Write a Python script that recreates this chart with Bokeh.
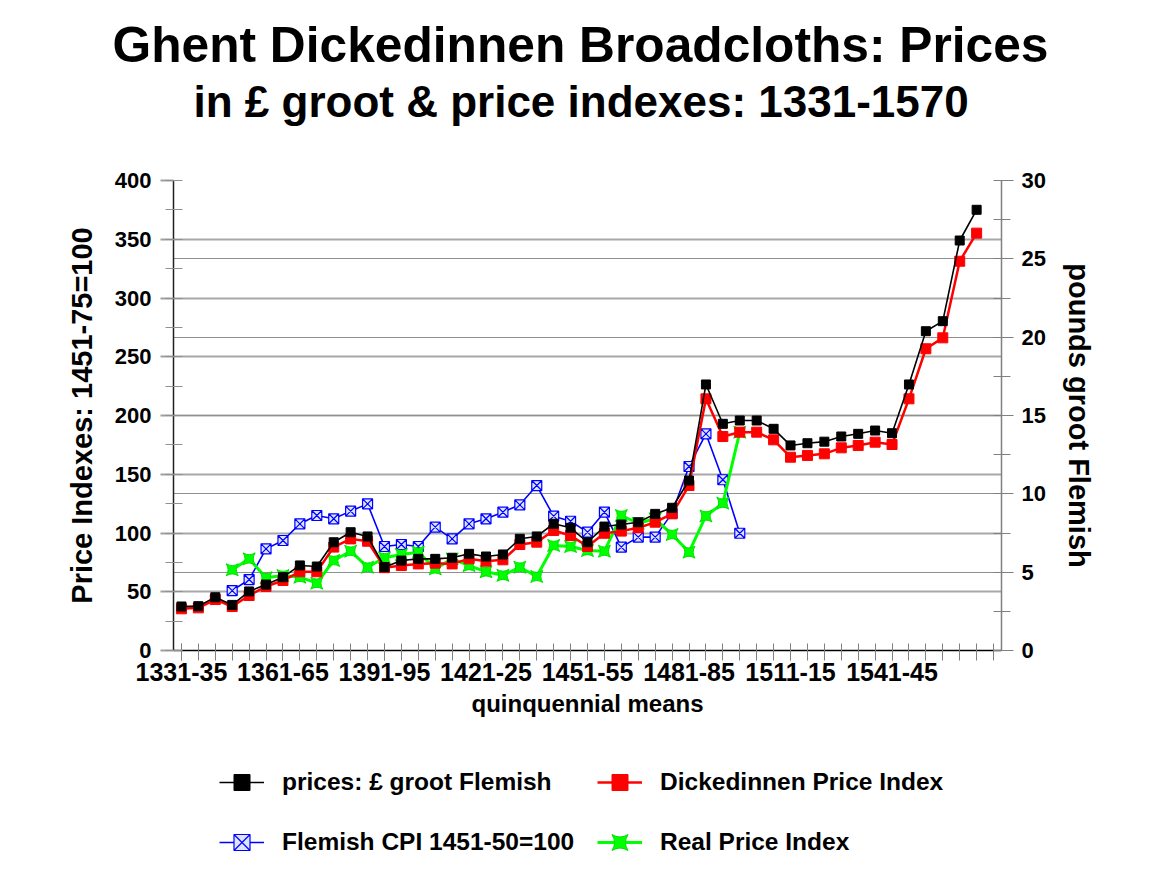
import numpy as np
from bokeh.plotting import figure
from bokeh.layouts import column
from bokeh.models import (Range1d, LinearAxis, SingleIntervalTicker, FixedTicker,
                          Grid, Legend, LegendItem, Title)
from bokeh.embed import file_html
from bokeh.resources import INLINE

# ---------------- data ----------------
periods = ["1331-35", "1336-40", "1341-45", "1346-50", "1351-55", "1356-60",
           "1361-65", "1366-70", "1371-75", "1376-80", "1381-85", "1386-90",
           "1391-95", "1396-00", "1401-05", "1406-10", "1411-15", "1416-20",
           "1421-25", "1426-30", "1431-35", "1436-40", "1441-45", "1446-50",
           "1451-55", "1456-60", "1461-65", "1466-70", "1471-75", "1476-80",
           "1481-85", "1486-90", "1491-95", "1496-00", "1501-05", "1506-10",
           "1511-15", "1516-20", "1521-25", "1526-30", "1531-35", "1536-40",
           "1541-45", "1546-50", "1551-55", "1556-60", "1561-65", "1566-70",
           "1571-75"]
tick_labels = ["1331-35", "1361-65", "1391-95", "1421-25", "1451-55",
               "1481-85", "1511-15", "1541-45"]

# prices in pounds groot Flemish (right axis)
prices_lb = [2.81, 2.83, 3.40, 2.91, 3.77, 4.21, 4.68, 5.43, 5.36, 6.91,
             7.55, 7.28, 5.32, 5.74, 5.85, 5.85, 5.92, 6.17, 6.00, 6.13,
             7.13, 7.28, 8.09, 7.83, 6.91, 7.91, 8.04, 8.19, 8.72, 9.11,
             10.85, 16.98, 14.47, 14.68, 14.68, 14.15, 13.09, 13.23, 13.33, 13.66,
             13.83, 14.04, 13.87, 16.98, 20.38, 21.02, 26.17, 28.13, None]
# Dickedinnen price index (left axis)
dick_index = [35.5, 36.3, 43.4, 37.4, 46.8, 54.5, 59.6, 67.0, 67.0, 88.0,
              95.0, 93.0, 70.5, 72.3, 73.7, 74.3, 73.7, 78.0, 76.0, 77.2,
              90.2, 92.2, 102.1, 97.9, 88.5, 99.8, 101.6, 104.4, 109.2, 116.3,
              140.4, 214.2, 182.1, 185.8, 185.8, 179.3, 164.5, 166.0, 167.4, 172.5,
              174.5, 177.3, 175.3, 214.2, 256.8, 266.1, 331.3, 355.2, None]
# Flemish CPI (left axis)
cpi = [None, None, None, 51.0, 60.4, 86.5, 93.6, 107.8, 114.9, 112.1,
       118.6, 124.8, 88.5, 90.2, 88.5, 105.0, 95.0, 107.8, 112.1, 117.7,
       124.0, 140.4, 114.3, 110.0, 100.7, 117.7, 88.0, 96.5, 96.5, 116.9,
       156.6, 184.4, 145.3, 99.8, None, None, None, None, None, None,
       None, None, None, None, None, None, None, None, None]
# Real price index (left axis)
real_index = [None, None, None, 68.7, 78.0, 61.9, 63.8, 62.4, 57.3, 76.6,
              84.5, 70.9, 78.9, 81.7, 83.7, 69.5, 78.0, 72.3, 67.0, 64.0,
              70.9, 63.0, 89.4, 88.5, 85.1, 84.5, 114.9, 108.3, 112.1, 98.7,
              83.7, 114.5, 125.4, 185.8, None, None, None, None, None, None,
              None, None, None, None, None, None, None, None, None]

series_labels = ["prices: £ groot Flemish", "Dickedinnen Price Index",
                 "Flemish CPI 1451-50=100", "Real Price Index"]

xs = np.arange(len(periods))
def arr(v):
    return np.array([np.nan if a is None else a for a in v], dtype=float)

SERIES = {"prices": prices_lb, "dick": dick_index, "cpi": cpi, "real": real_index}

FONT = "Liberation Sans"
W = 1135
H_MAIN = 735

# styles per series (line kwargs, marker kwargs)
STY = {
    "prices": (dict(line_color="black", line_width=1.6),
               dict(marker="square", size=9, line_color="black", fill_color="black")),
    "dick": (dict(line_color="#ff0000", line_width=2.5),
             dict(marker="square", size=10, line_color="#ff0000", fill_color="#ff0000")),
    "cpi": (dict(line_color="#0000ff", line_width=1.6),
            dict(marker="square_x", size=10, line_color="#0000ff",
                 fill_color="#dde4ff", line_width=1.2)),
    "real": (dict(line_color="#00ff00", line_width=3),
             dict(marker="square_pin", size=12, line_color="#00e000",
                  fill_color="#00ff00")),
}

p = figure(width=W, height=H_MAIN, x_range=Range1d(-0.47, len(periods) - 0.53),
           y_range=Range1d(0, 400), output_backend="svg", toolbar_location=None,
           title=None, min_border_left=173, min_border_right=W - 1001,
           min_border_top=180, min_border_bottom=85,
           background_fill_color="white", border_fill_color="white")
p.outline_line_color = None
p.extra_y_ranges = {"pounds": Range1d(0, 30)}

# ---- titles (spacer, line 2, line 1 stacked upward from the frame) ----
spacer = Title(text=" ", text_font_size="1px", standoff=50)
t2 = Title(text="in £ groot & price indexes: 1331-1570", text_font=FONT,
           text_font_size="44px", text_font_style="bold", align="left",
           offset=20, standoff=4, text_color="black")
t1 = Title(text="Ghent Dickedinnen Broadcloths: Prices", text_font=FONT,
           text_font_size="49.7px", text_font_style="bold", align="left",
           offset=-61, standoff=0, text_color="black")
p.add_layout(spacer, "above")
p.add_layout(t2, "above")
p.add_layout(t1, "above")

# ---- x axis ----
xa = p.xaxis[0]
xa.ticker = FixedTicker(ticks=[periods.index(t) for t in tick_labels],
                        minor_ticks=list(range(len(periods))))
xa.major_label_overrides = {periods.index(t): t for t in tick_labels}
xa.axis_label = "quinquennial means"
xa.axis_label_text_font = FONT
xa.axis_label_text_font_size = "24px"
xa.axis_label_text_font_style = "bold"
xa.axis_label_text_color = "black"
xa.axis_label_standoff = 6
xa.major_label_text_font = FONT
xa.major_label_text_font_size = "25px"
xa.major_label_text_font_style = "bold"
xa.major_label_text_color = "black"
xa.major_label_standoff = 2
xa.major_tick_in = 7
xa.major_tick_out = 10
xa.minor_tick_in = 7
xa.minor_tick_out = 10
xa.major_tick_line_color = "#808080"
xa.minor_tick_line_color = "#808080"
xa.axis_line_color = "black"
xa.axis_line_width = 1.5

# ---- left axis ----
ya = p.yaxis[0]
ya.ticker = SingleIntervalTicker(interval=50, num_minor_ticks=2)
ya.axis_label = "Price Indexes: 1451-75=100"
ya.axis_label_text_font = FONT
ya.axis_label_text_font_size = "29px"
ya.axis_label_text_font_style = "bold"
ya.axis_label_text_color = "black"
ya.axis_label_standoff = 14
ya.major_label_text_font = FONT
ya.major_label_text_font_size = "22px"
ya.major_label_text_font_style = "bold"
ya.major_label_text_color = "black"
ya.major_label_standoff = 9
ya.major_tick_in = 0
ya.major_tick_out = 13
ya.minor_tick_in = 9
ya.minor_tick_out = 8
ya.major_tick_line_color = "#a0a0a0"
ya.minor_tick_line_color = "#909090"
ya.major_tick_line_width = 2
ya.axis_line_color = "#202020"
ya.axis_line_width = 1.5

# ---- right axis ----
ra = LinearAxis(y_range_name="pounds",
                ticker=SingleIntervalTicker(interval=5, num_minor_ticks=2))
ra.axis_label = "pounds groot Flemish"
ra.axis_label_text_font = FONT
ra.axis_label_text_font_size = "29px"
ra.axis_label_text_font_style = "bold"
ra.axis_label_text_color = "black"
ra.axis_label_standoff = 14
ra.major_label_text_font = FONT
ra.major_label_text_font_size = "22px"
ra.major_label_text_font_style = "bold"
ra.major_label_text_color = "black"
ra.major_label_standoff = 8
ra.major_tick_in = 0
ra.major_tick_out = 12
ra.minor_tick_in = 8
ra.minor_tick_out = 9
ra.major_tick_line_color = "#808080"
ra.minor_tick_line_color = "#808080"
ra.axis_line_color = "#808080"
ra.axis_line_width = 1.5
p.add_layout(ra, "right")

# ---- grids ----
p.xgrid.visible = False
p.ygrid.ticker = ya.ticker
p.ygrid.grid_line_color = "#a8a8a8"
p.ygrid.grid_line_width = 2
rgrid = Grid(dimension=1, ticker=ra.ticker, y_range_name="pounds",
             grid_line_color="#909090", grid_line_width=1.2)
p.add_layout(rgrid, "center")

# ---- series ----
for key in ["cpi", "real", "dick", "prices"]:
    kw = {"y_range_name": "pounds"} if key == "prices" else {}
    p.line(xs, arr(SERIES[key]), **STY[key][0], **kw)
    p.scatter(xs, arr(SERIES[key]), **STY[key][1], **kw)

# ---- legend strip below the chart ----
# The strip re-uses the same series, but its ranges show none of the data,
# so only the legend is visible there.
pl = figure(width=W, height=874 - H_MAIN, x_range=Range1d(-200, -199),
            y_range=Range1d(-200, -199), output_backend="svg",
            toolbar_location=None, min_border=0,
            background_fill_color="white", border_fill_color="white")
pl.axis.visible = False
pl.grid.visible = False
pl.outline_line_color = None
items = []
for key, lab in zip(["prices", "dick", "cpi", "real"], series_labels):
    lr = pl.line(xs, arr(SERIES[key]), **STY[key][0])
    mk = dict(STY[key][1])
    mk["size"] = 8
    mr = pl.scatter(xs, arr(SERIES[key]), **mk)
    items.append(LegendItem(label=lab, renderers=[lr, mr]))
# column-major fill: column 1 = prices, CPI ; column 2 = Dickedinnen, Real
legend = Legend(items=[items[0], items[2], items[1], items[3]], ncols=2,
                location=(46, 12), orientation="vertical")
legend.label_text_font = FONT
legend.label_text_font_size = "24.5px"
legend.label_text_font_style = "bold"
legend.label_text_color = "black"
legend.glyph_width = 45
legend.glyph_height = 40
legend.label_height = 40
legend.label_width = 295
legend.label_standoff = 18
legend.spacing = 20
legend.padding = 6
legend.margin = 0
legend.border_line_color = None
legend.background_fill_alpha = 0
pl.add_layout(legend, "center")

layout = column(p, pl, spacing=0)
open("out.html", "w").write(file_html(layout, INLINE))
